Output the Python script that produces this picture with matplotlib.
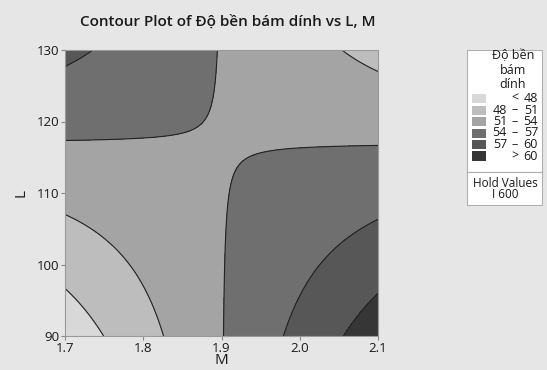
import numpy as np
import matplotlib
matplotlib.use("Agg")
import matplotlib.pyplot as plt
from matplotlib.patches import Rectangle

plt.rcParams["font.family"] = ["Open Sans", "DejaVu Sans"]

# fitted response surface (coded units)
# y = b0 + bM*m + bL*l + bML*m*l ; m=(M-1.9)/0.2, l=(L-110)/20 ; I held at 600
coef_names = ["const", "M", "L", "M*L"]
coef_values = [53.9, 2.03, 0.0, -5.8]
M_lim = [1.7, 2.1]
L_lim = [90, 130]
M_center, M_half = 1.9, 0.2
L_center, L_half = 110, 20

levels = [48, 51, 54, 57, 60]
lo_labels = ["", "48", "51", "54", "57", ""]
sign_labels = ["<", "–", "–", "–", "–", ">"]
hi_labels = ["48", "51", "54", "57", "60", "60"]
grays = ["#d8d8d8", "#bdbdbd", "#a4a4a4", "#6f6f6f", "#575757", "#363636"]
hold_factor, hold_value = "I", 600

W, H = 547, 370
BG = "#e6e6e6"
TXT = "#1a1a1a"
fig = plt.figure(figsize=(W / 100, H / 100), dpi=100, facecolor=BG)

def fx(px): return px / W
def fy(py): return 1 - py / H

ax = fig.add_axes([fx(65), fy(336), fx(378) - fx(65), fy(50) - fy(336)])
M = np.linspace(M_lim[0], M_lim[1], 400)
L = np.linspace(L_lim[0], L_lim[1], 400)
MM, LL = np.meshgrid(M, L)
m = (MM - M_center) / M_half
l = (LL - L_center) / L_half
b0, bM, bL, bML = coef_values
Z = b0 + bM * m + bL * l + bML * m * l

bounds = [Z.min() - 1] + levels + [Z.max() + 1]
ax.contourf(MM, LL, Z, levels=bounds, colors=grays)
ax.contour(MM, LL, Z, levels=levels, colors="#222222", linewidths=0.8)

ax.set_xlim(M_lim); ax.set_ylim(L_lim)
ax.set_xticks([1.7, 1.8, 1.9, 2.0, 2.1])
ax.set_yticks([90, 100, 110, 120, 130])
ax.tick_params(labelsize=9.5, length=3, color="#888888", labelcolor=TXT, pad=1)
for s in ax.spines.values():
    s.set_color("#9a9a9a"); s.set_linewidth(0.8)
ax.set_xlabel("M", fontsize=11, labelpad=-1, color=TXT)
ax.set_ylabel("L", fontsize=11, labelpad=6, color=TXT)

fig.text(fx(228), fy(22), "Contour Plot of Độ bền bám dính vs L, M",
         ha="center", va="center", fontsize=11, fontweight="semibold", color=TXT)

# legend boxes
lg = fig.add_axes([fx(467), fy(172), fx(542) - fx(467), fy(50) - fy(172)])
hv = fig.add_axes([fx(467), fy(205), fx(542) - fx(467), fy(172) - fy(205)])
for a in (lg, hv):
    a.set_xticks([]); a.set_yticks([])
    a.set_facecolor("white")
    for s in a.spines.values():
        s.set_color("#b0b0b0"); s.set_linewidth(0.8)

fig.text(fx(513), fy(70), "Độ bền\nbám\ndính", ha="center", va="center",
         fontsize=9, linespacing=1.1, color=TXT)
for i, col in enumerate(grays):
    yc = 98.5 + 11.5 * i
    fig.patches.append(Rectangle((fx(472), fy(yc + 4.5)), fx(486) - fx(472), fy(yc - 4.5) - fy(yc + 4.5),
                                 transform=fig.transFigure, facecolor=col, edgecolor="none"))
    fig.text(fx(507), fy(yc), lo_labels[i], ha="right", va="center", fontsize=9, color=TXT)
    fig.text(fx(515), fy(yc), sign_labels[i], ha="center", va="center", fontsize=9, color=TXT)
    fig.text(fx(538), fy(yc), hi_labels[i], ha="right", va="center", fontsize=9, color=TXT)

fig.text(fx(505), fy(183), "Hold Values", ha="center", va="center", fontsize=8.5, color=TXT)
fig.text(fx(505), fy(195), f"{hold_factor} {hold_value}", ha="center", va="center", fontsize=8.5, color=TXT)

fig.savefig("out.png", dpi=100, facecolor=BG)
